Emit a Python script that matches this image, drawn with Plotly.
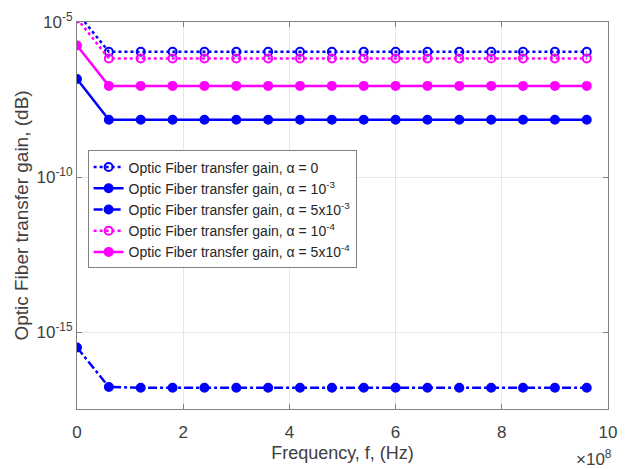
import plotly.graph_objects as go

freq_e8 = [0, 0.6, 1.2, 1.8, 2.4, 3.0, 3.6, 4.2, 4.8, 5.4, 6.0, 6.6, 7.2, 7.8, 8.4, 9.0, 9.6]
gain_a0 = [2.0e-5] + [1.1e-6] * 16
gain_a1e3 = [1.45e-7] + [7.0e-9] * 16
gain_a5e3 = [3.2e-16] + [1.7e-17] + [1.6e-17] * 15
gain_a1e4 = [1.3e-5] + [6.7e-7] * 16
gain_a5e4 = [1.75e-6] + [8.7e-8] * 16

freq = [f * 1e8 for f in freq_e8]

BLUE = "#0000FF"
MAG = "#FF00FF"
FONT = "Liberation Sans, Arial"

series = [
    ("Optic Fiber transfer gain, α = 0", gain_a0, BLUE, "dot", "circle-open"),
    ("Optic Fiber transfer gain, α = 10<sup>-3</sup>", gain_a1e3, BLUE, "solid", "circle"),
    ("Optic Fiber transfer gain, α = 5x10<sup>-3</sup>", gain_a5e3, BLUE, "dashdot", "circle"),
    ("Optic Fiber transfer gain, α = 10<sup>-4</sup>", gain_a1e4, MAG, "dot", "circle-open"),
    ("Optic Fiber transfer gain, α = 5x10<sup>-4</sup>", gain_a5e4, MAG, "solid", "circle"),
]

fig = go.Figure()
for i, (name, ys, col, dash, sym) in enumerate(series):
    fig.add_trace(go.Scatter(
        x=freq, y=ys, name=name, mode="lines+markers",
        line=dict(color=col, width=2.5, dash=dash),
        marker=dict(symbol=sym, size=8, color=col, line=dict(color=col, width=2)),
        legendgroup=str(i), cliponaxis=True,
    ))

axis_common = dict(
    showline=True, linecolor="#808080", linewidth=1, mirror="ticks",
    ticks="inside", ticklen=5, tickcolor="#808080",
    showgrid=True, gridcolor="#e6e6e6", gridwidth=1, zeroline=False,
    tickfont=dict(family=FONT, size=17, color="#404040"),
)

fig.update_xaxes(
    range=[0, 1e9], tickvals=[0, 2e8, 4e8, 6e8, 8e8, 1e9],
    ticktext=["0", "2", "4", "6", "8", "10"],
    ticklabelstandoff=8,
    title=dict(text="Frequency, f, (Hz)", font=dict(family=FONT, size=18, color="#404040"), standoff=4),
    **axis_common,
)
fig.update_yaxes(
    type="log", range=[-17.48, -5],
    tickvals=[1e-15, 1e-10, 1e-5],
    ticktext=["10<sup>-15</sup>", "10<sup>-10</sup>", "10<sup>-5</sup>"],
    title=dict(text="Optic Fiber transfer gain, (dB)", font=dict(family=FONT, size=19, color="#404040"), standoff=2),
    **axis_common,
)

fig.add_annotation(
    x=1.0, y=0, xref="paper", yref="paper", xanchor="right", yanchor="top",
    yshift=-36, xshift=6,
    text="×10<sup>8</sup>", showarrow=False,
    font=dict(family=FONT, size=17, color="#404040"),
)

fig.update_layout(
    width=627, height=469,
    margin=dict(l=77, r=10, t=17, b=59),
    paper_bgcolor="white", plot_bgcolor="white",
    legend=dict(
        x=0.02, y=0.668, xanchor="left", yanchor="top",
        bgcolor="white", bordercolor="#808080", borderwidth=1,
        font=dict(family=FONT, size=14, color="#262626"),
        tracegroupgap=0, itemwidth=30,
    ),
    showlegend=True,
)

fig.write_html("out.html")
